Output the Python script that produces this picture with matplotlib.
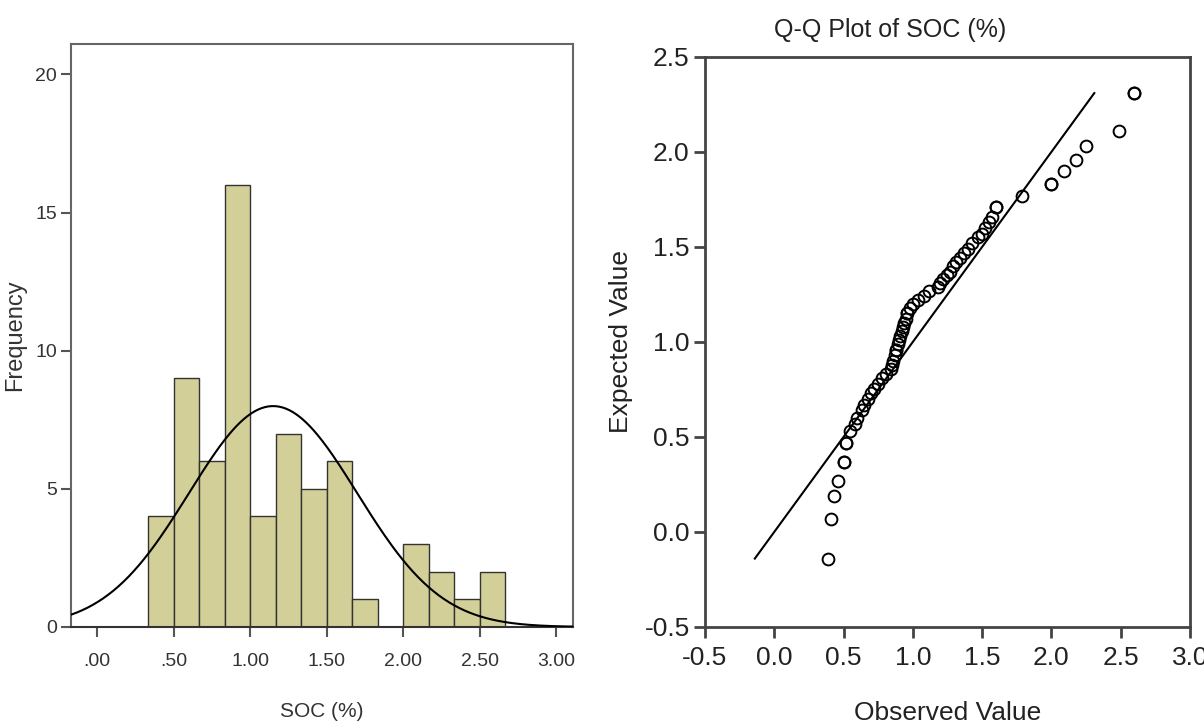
import numpy as np
import matplotlib.pyplot as plt

# histogram of SOC (%) - bins of width 1/6 starting at 1/3
bin_left = [0.333, 0.500, 0.667, 0.833, 1.000, 1.167, 1.333, 1.500,
            1.667, 1.833, 2.000, 2.167, 2.333, 2.500]
bin_width = 0.1667
counts = [4, 9, 6, 16, 4, 7, 5, 6, 1, 0, 3, 2, 1, 2]

# normal curve parameters
soc_mean = 1.15
soc_sd = 0.549
n_obs = 66

# Q-Q plot points (observed, expected)
observed = [0.39, 0.41, 0.43, 0.46, 0.50, 0.50, 0.52, 0.52, 0.55, 0.58,
            0.60, 0.63, 0.65, 0.68, 0.70, 0.72, 0.75, 0.78, 0.81, 0.84,
            0.85, 0.86, 0.87, 0.88, 0.88, 0.89, 0.90, 0.91, 0.92, 0.93,
            0.94, 0.95, 0.96, 0.96, 0.98, 1.00, 1.04, 1.08, 1.12, 1.18,
            1.20, 1.22, 1.25, 1.27, 1.29, 1.31, 1.34, 1.37, 1.40, 1.43,
            1.47, 1.50, 1.52, 1.55, 1.57, 1.60, 1.60, 1.79, 2.00, 2.00,
            2.09, 2.18, 2.25, 2.49, 2.60, 2.60]
expected = [-0.14, 0.07, 0.19, 0.27, 0.37, 0.37, 0.47, 0.47, 0.53, 0.57,
            0.60, 0.64, 0.67, 0.70, 0.73, 0.75, 0.78, 0.81, 0.83, 0.86,
            0.88, 0.90, 0.93, 0.96, 0.96, 0.99, 1.01, 1.03, 1.06, 1.08,
            1.10, 1.12, 1.15, 1.15, 1.18, 1.20, 1.22, 1.24, 1.27, 1.29,
            1.31, 1.33, 1.35, 1.37, 1.40, 1.42, 1.44, 1.47, 1.49, 1.52,
            1.55, 1.57, 1.60, 1.63, 1.66, 1.71, 1.71, 1.77, 1.83, 1.83,
            1.90, 1.96, 2.03, 2.11, 2.31, 2.31]

font = ['Liberation Sans', 'DejaVu Sans']
txt_col = '#222222'

fig = plt.figure(figsize=(12.04, 7.26), dpi=100)

#%% histogram
ax1 = fig.add_axes([0.059, 0.1364, 0.417, 0.803])
ax1.bar(bin_left, counts, width=bin_width, align='edge', color='#d3cf98',
        edgecolor='#333333', linewidth=1.0, zorder=2)
xs = np.linspace(-0.2, 3.2, 300)
curve = n_obs * bin_width * np.exp(-0.5 * ((xs - soc_mean) / soc_sd) ** 2) / (soc_sd * np.sqrt(2 * np.pi))
ax1.plot(xs, curve, color='black', linewidth=1.5, zorder=3)
ax1.set_xlim(-0.17, 3.11)
ax1.set_ylim(0, 21.1)
ax1.set_xticks([0, 0.5, 1.0, 1.5, 2.0, 2.5, 3.0])
ax1.set_xticklabels(['.00', '.50', '1.00', '1.50', '2.00', '2.50', '3.00'])
ax1.set_yticks([0, 5, 10, 15, 20])
for lab in ax1.get_xticklabels() + ax1.get_yticklabels():
    lab.set_family(font)
    lab.set_fontsize(14)
    lab.set_color('#333333')
ax1.tick_params(direction='out', length=7, width=1.5, color='#555555', pad=3)
ax1.tick_params(axis='x', pad=12)
for s in ax1.spines.values():
    s.set_color('#666666')
    s.set_linewidth(1.5)
ax1.spines['bottom'].set_color('#333333')
ax1.set_xlabel('SOC (%)', family=font, fontsize=15, color='#333333')
ax1.xaxis.set_label_coords(0.5, -0.128, transform=ax1.transAxes)
ax1.set_ylabel('Frequency', family=font, fontsize=17, color='#333333')
ax1.yaxis.set_label_coords(-0.09, 0.5, transform=ax1.transAxes)

#%% Q-Q plot
ax2 = fig.add_axes([0.5855, 0.1364, 0.4028, 0.7851])
ax2.plot([min(expected), max(expected)], [min(expected), max(expected)],
         color='black', linewidth=1.5, zorder=2)
ax2.plot(observed, expected, 'o', markerfacecolor='none', markeredgecolor='black',
         markersize=8.5, markeredgewidth=1.4, zorder=3)
ax2.set_xlim(-0.5, 3.0)
ax2.set_ylim(-0.5, 2.5)
ax2.set_xticks([-0.5, 0.0, 0.5, 1.0, 1.5, 2.0, 2.5, 3.0])
ax2.set_yticks([-0.5, 0.0, 0.5, 1.0, 1.5, 2.0, 2.5])
ax2.xaxis.set_major_formatter(plt.FormatStrFormatter('%.1f'))
ax2.yaxis.set_major_formatter(plt.FormatStrFormatter('%.1f'))
for lab in ax2.get_xticklabels() + ax2.get_yticklabels():
    lab.set_family(font)
    lab.set_fontsize(19)
    lab.set_color(txt_col)
ax2.tick_params(direction='out', length=8, width=2, color='#444444', pad=3)
ax2.tick_params(axis='x', pad=6)
for s in ax2.spines.values():
    s.set_color('#444444')
    s.set_linewidth(2)
ax2.set_xlabel('Observed Value', family=font, fontsize=19, color=txt_col)
ax2.xaxis.set_label_coords(0.5, -0.13, transform=ax2.transAxes)
ax2.set_ylabel('Expected Value', family=font, fontsize=19, color=txt_col, labelpad=8)
fig.text(0.739, 0.958, 'Q-Q Plot of SOC (%)', family=font, fontsize=18,
         color=txt_col, ha='center', va='center')

fig.savefig('out.png', dpi=100)
